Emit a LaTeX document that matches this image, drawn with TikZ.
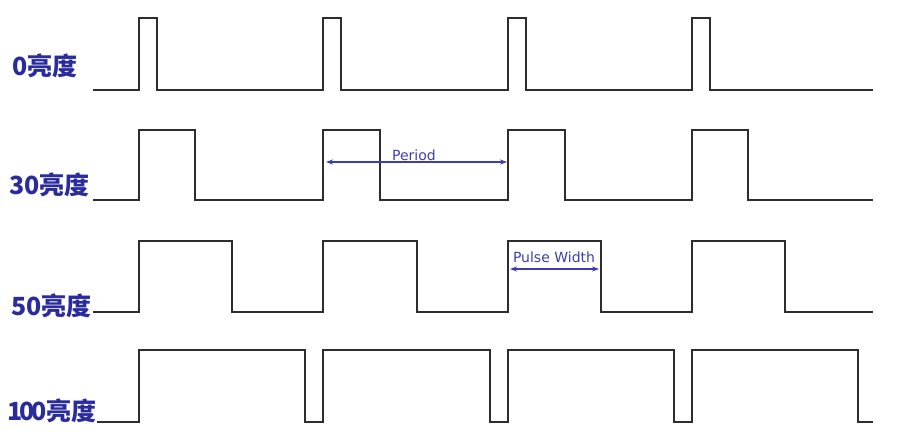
\documentclass[tikz,border=0pt]{standalone}
\usepackage{fontspec}
\newfontfamily\cjk{Noto Sans CJK SC}
\newfontfamily\dejavu{DejaVu Sans}
\usepackage{tikz}
\usetikzlibrary{arrows.meta}

\definecolor{azuletiq}{RGB}{42,44,158}
\definecolor{azulcota}{RGB}{60,62,175}
\definecolor{grissenal}{RGB}{45,45,45}

\tikzset{
  senal/.style={draw=grissenal, line width=2pt, line join=miter},
  brillo/.style={anchor=east, text=azuletiq, font=\cjk\bfseries\fontsize{25}{27}\selectfont, inner sep=0pt},
  cota/.style={draw=azulcota, line width=1.1pt, {Stealth[length=7pt,width=5pt]}-{Stealth[length=7pt,width=5pt]}},
  textocota/.style={text=azulcota, font=\dejavu\fontsize{14}{16}\selectfont, inner sep=0pt}
}

\begin{document}
\begin{tikzpicture}[x=1pt,y=-1pt]
    \useasboundingbox (0,0) rectangle (911,443);

    % Etiquetas
    \node[brillo] (b0)   at (78,66)  {0亮度};
    \node[brillo] (b30)  at (90,185) {30亮度};
    \node[brillo] (b50)  at (92,306) {50亮度};
    \node[brillo] (b100) at (97,411) {{\addfontfeature{LetterSpace=-12}100}亮度};

    % Señal 0
    \draw[senal] (93,90) -- (139,90) -- (139,18) -- (157,18) -- (157,90)
        -- (323,90) -- (323,18) -- (341,18) -- (341,90)
        -- (508,90) -- (508,18) -- (526,18) -- (526,90)
        -- (692,90) -- (692,18) -- (710,18) -- (710,90) -- (873,90);

    % Señal 30
    \draw[senal] (93,200) -- (139,200) -- (139,130) -- (195,130) -- (195,200)
        -- (323,200) -- (323,130) -- (380,130) -- (380,200)
        -- (508,200) -- (508,130) -- (565,130) -- (565,200)
        -- (692,200) -- (692,130) -- (748,130) -- (748,200) -- (873,200);

    % Señal 50
    \draw[senal] (93,312) -- (139,312) -- (139,241) -- (232,241) -- (232,312)
        -- (323,312) -- (323,241) -- (417,241) -- (417,312)
        -- (508,312) -- (508,241) -- (601,241) -- (601,312)
        -- (692,312) -- (692,241) -- (785,241) -- (785,312) -- (873,312);

    % Señal 100
    \draw[senal] (97,422) -- (139,422) -- (139,350) -- (305,350) -- (305,422)
        -- (323,422) -- (323,350) -- (490,350) -- (490,422)
        -- (508,422) -- (508,350) -- (674,350) -- (674,422)
        -- (692,422) -- (692,350) -- (858,350) -- (858,422) -- (873,422);

    % Periodo
    \coordinate (per-a) at (326,162);
    \coordinate (per-b) at (507,162);
    \draw[cota] (per-a) -- (per-b);
    \node[textocota] (periodo) at (414,155) {Period};

    % Ancho de pulso
    \coordinate (anc-a) at (510,269);
    \coordinate (anc-b) at (599,269);
    \draw[cota] (anc-a) -- (anc-b);
    \node[textocota] (ancho) at (554,257) {Pulse Width};
\end{tikzpicture}
\end{document}
